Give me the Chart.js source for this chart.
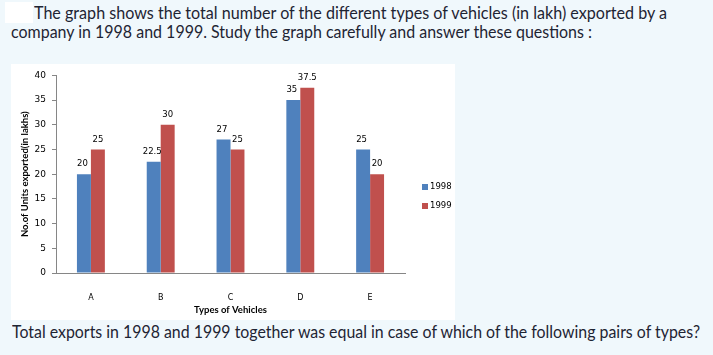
<!DOCTYPE html>
<html><head><meta charset="utf-8">
<script src="https://cdn.jsdelivr.net/npm/chart.js@4"></script>
<style>
html,body{margin:0;padding:0;background:#F0F8FC;width:713px;height:355px;overflow:hidden;}
.t{position:absolute;white-space:nowrap;font-family:Lato,"Open Sans",sans-serif;font-size:17px;color:#1e2433;transform-origin:0 0;line-height:17px}
#box{position:absolute;left:5px;top:2px;width:28px;height:21px;background:#fff}
#panel{position:absolute;left:11px;top:64px;width:444px;height:256px;background:#fff}
#wrap{position:absolute;left:11px;top:64px;width:444px;height:256px}
</style></head>
<body>
<div id="box"></div>
<div id="panel"></div>
<div class="t" data-w="633" style="left:34px;top:4px">The graph shows the total number of the different types of vehicles (in lakh) exported by a</div>
<div class="t" data-w="581" style="left:11px;top:23px">company in 1998 and 1999. Study the graph carefully and answer these questions :</div>
<div class="t" data-w="688" style="left:12px;top:323px">Total exports in 1998 and 1999 together was equal in case of which of the following pairs of types?</div>
<div id="wrap"><canvas id="c" width="444" height="256"></canvas></div>
<script>
const categories = ['A', 'B', 'C', 'D', 'E'];
const seriesNames = ['1998', '1999'];
const values1998 = [20, 22.5, 27, 35, 25];
const values1999 = [25, 30, 25, 37.5, 20];
const yMin = 0, yMax = 40, yStep = 5;
const colors = ['#4F81BD', '#C0504D'];

document.querySelectorAll('.t').forEach(el => {
  const w = el.getBoundingClientRect().width;
  const target = +el.dataset.w;
  el.style.transform = 'scaleX(' + (target / w) + ')';
});

const valueLabels = {
  id: 'valueLabels',
  afterDatasetsDraw(chart) {
    const ctx = chart.ctx;
    ctx.save();
    ctx.font = '8.5px "DejaVu Sans"';
    ctx.fillStyle = '#000';
    ctx.textAlign = 'center';
    ctx.textBaseline = 'middle';
    chart.data.datasets.forEach((ds, i) => {
      chart.getDatasetMeta(i).data.forEach((bar, j) => {
        ctx.fillText(String(ds.data[j]), bar.x + (i === 0 ? -1.5 : 0), bar.y - 10);
      });
    });
    ctx.restore();
  }
};

const sideLegend = {
  id: 'sideLegend',
  afterDraw(chart) {
    const ctx = chart.ctx;
    const x = chart.chartArea.right + 17;
    ctx.save();
    ctx.font = '8.5px "DejaVu Sans"';
    ctx.textBaseline = 'middle';
    ctx.textAlign = 'left';
    chart.data.datasets.forEach((ds, i) => {
      const y = chart.height / 2 - 5 + i * 19;
      ctx.fillStyle = ds.backgroundColor;
      ctx.fillRect(x, y - 3, 6, 6);
      ctx.fillStyle = '#000';
      ctx.fillText(ds.label, x + 8, y);
    });
    ctx.restore();
  }
};

new Chart(document.getElementById('c'), {
  type: 'bar',
  data: {
    labels: categories,
    datasets: [
      { label: seriesNames[0], data: values1998, backgroundColor: colors[0] },
      { label: seriesNames[1], data: values1999, backgroundColor: colors[1] }
    ]
  },
  options: {
    responsive: false,
    animation: false,
    devicePixelRatio: 1,
    datasets: { bar: { categoryPercentage: 0.4, barPercentage: 1 } },
    layout: { padding: { left: 0, right: 50, top: 9, bottom: 0 } },
    plugins: { legend: { display: false }, tooltip: { enabled: false } },
    scales: {
      x: {
        grid: { display: false },
        border: { display: true, color: '#868686', width: 1 },
        ticks: { padding: 12, font: { family: 'DejaVu Sans', size: 8 }, color: '#000' },
        title: { display: true, text: 'Types of Vehicles', font: { family: 'Lato', weight: 'bold', size: 9.5 }, color: '#000', padding: { top: 0, bottom: 4 } },
        afterFit: s => { s.height = 47; }
      },
      y: {
        min: yMin, max: yMax,
        ticks: { stepSize: yStep, padding: 6, font: { family: 'DejaVu Sans', size: 9 }, color: '#000' },
        grid: { drawOnChartArea: false, drawTicks: true, tickLength: 4, color: '#868686' },
        border: { display: true, color: '#868686', width: 1 },
        title: { display: true, text: 'No.of Units exported(in lakhs)', font: { family: 'Lato', weight: 'bold', size: 9.5 }, color: '#000', padding: { top: 8, bottom: 0 } },
        afterFit: s => { s.width = 45; }
      }
    }
  },
  plugins: [valueLabels, sideLegend]
});
</script>
</body></html>
